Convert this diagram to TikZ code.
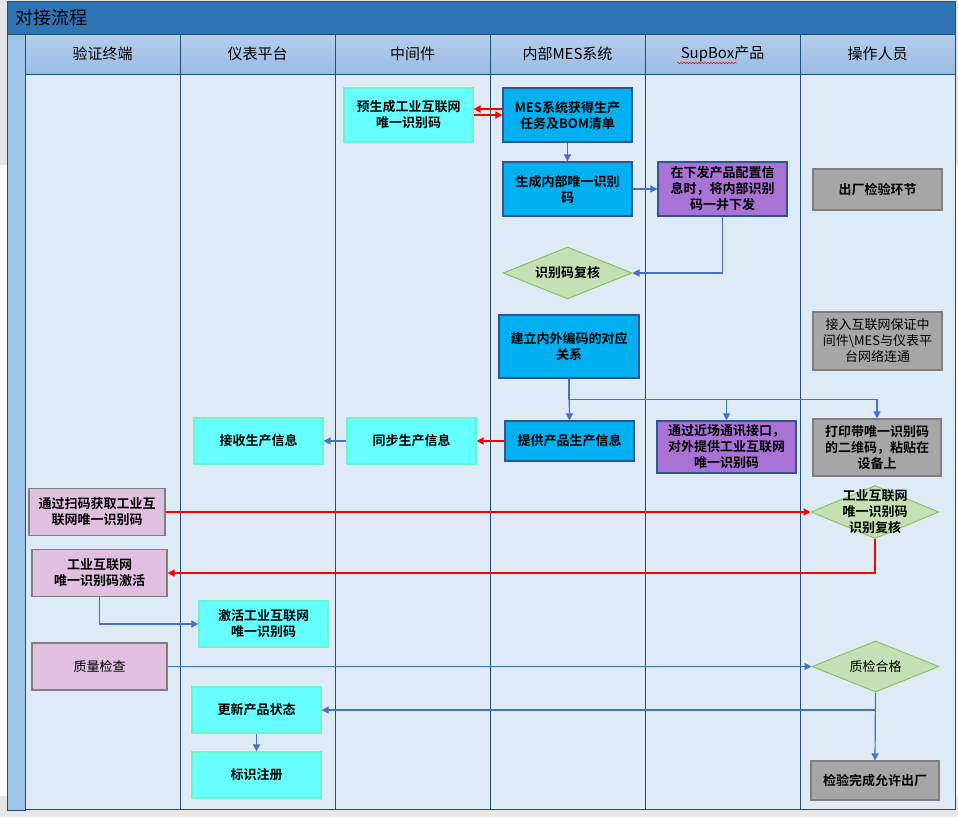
\documentclass[tikz,border=0pt]{standalone}
\usepackage{fontspec}
\newfontfamily\cjk[BoldFont={* Bold}]{Noto Sans CJK SC}
\usetikzlibrary{shapes.geometric,arrows.meta,decorations.pathmorphing,calc}
\definecolor{bggray}{HTML}{E6E6E6}
\definecolor{titleF}{HTML}{2E75B6}
\definecolor{stripF}{HTML}{9DC3E6}
\definecolor{headT}{HTML}{B5CEEB}
\definecolor{headB}{HTML}{9ABCE4}
\definecolor{laneF}{HTML}{DEEAF6}
\definecolor{laneD}{HTML}{1F4E79}
\definecolor{cyanF}{HTML}{66FFFF}
\definecolor{cyanD}{HTML}{6CF5C8}
\definecolor{blueF}{HTML}{00B0F0}
\definecolor{boxD}{HTML}{2F5597}
\definecolor{purF}{HTML}{A973D6}
\definecolor{grayF}{HTML}{A6A6A6}
\definecolor{grayD}{HTML}{7F7F7F}
\definecolor{pinkF}{HTML}{E0BFE0}
\definecolor{diaF}{HTML}{C5E0B4}
\definecolor{diaD}{HTML}{8FC065}
\definecolor{arrB}{HTML}{4472C4}
\definecolor{redL}{HTML}{FF0000}
\begin{document}
\begin{tikzpicture}[x=1pt,y=-1pt,
  box/.style={draw, line width=1.2pt, inner sep=0pt, align=center, font=\cjk\bfseries\fontsize{13}{16}\selectfont},
  cyanbox/.style={box, fill=cyanF, draw=cyanD},
  bluebox/.style={box, fill=blueF, draw=boxD},
  purbox/.style={box, fill=purF, draw=boxD},
  graybox/.style={box, fill=grayF, draw=grayD},
  pinkbox/.style={box, fill=pinkF, draw=grayD},
  dia/.style={diamond, draw=diaD, fill=diaF, line width=1pt, inner sep=0pt},
  diatext/.style={align=center, inner sep=0pt, font=\cjk\bfseries\fontsize{13}{16}\selectfont},
  lane/.style={draw=laneD, line width=1pt, fill=laneF},
  headcell/.style={draw=laneD, line width=1pt, top color=headT, bottom color=headB},
  headtext/.style={font=\cjk\fontsize{15}{18}\selectfont, inner sep=0pt},
  barrow/.style={draw=arrB, line width=1.2pt, -{Triangle[length=7pt,width=7pt]}},
  bline/.style={draw=arrB, line width=1.2pt},
  rarrow/.style={draw=redL, line width=2pt, -{Triangle[length=7pt,width=7pt]}}
]
\useasboundingbox (0,0) rectangle (958,817);
\fill[bggray] (0,0) rectangle (958,817);
\fill[white] (0,165) rectangle (958,796);
% pool
\fill[titleF, draw=laneD, line width=1pt] (7,1) rectangle (955,34);
\node[anchor=west, inner sep=0pt, font=\cjk\fontsize{18}{20}\selectfont] (title) at (15,18) {对接流程};
\fill[stripF, draw=laneD, line width=1pt] (7,34) rectangle (25,810);
% lanes
\foreach \a/\b in {25/180,180/335,335/490,490/645,645/800,800/955}{
  \path[lane] (\a,74) rectangle (\b,809);
  \path[headcell] (\a,34) rectangle (\b,74);
}
\node[headtext] (h1) at (102.5,54) {验证终端};
\node[headtext] (h2) at (257.5,54) {仪表平台};
\node[headtext] (h3) at (412.5,54) {中间件};
\node[headtext] (h4) at (567.5,54) {内部MES系统};
\node[headtext] (h5) at (722.5,54) {SupBox产品};
\node[headtext] (h6) at (877.5,54) {操作人员};
\draw[red, line width=0.5pt, decorate, decoration={snake, amplitude=0.8pt, segment length=3pt}] (677,63) -- (737,63);
% nodes
\node[cyanbox, minimum width=129, minimum height=54] (pre) at (408.5,115) {预生成工业互联网\\唯一识别码};
\node[bluebox, minimum width=129, minimum height=54] (mes) at (567.5,115) {MES系统获得生产\\任务及BOM清单};
\node[bluebox, minimum width=129, minimum height=54] (gen) at (567.5,189) {生成内部唯一识别\\码};
\node[purbox, minimum width=129, minimum height=54] (pur1) at (722.5,189) {在下发产品配置信\\息时，将内部识别\\码一并下发};
\node[dia, minimum width=129, minimum height=52] (d1) at (567.5,273) {};
\node[diatext] (d1t) at (d1) {识别码复核};
\node[bluebox, minimum width=140, minimum height=63] (jl) at (569,346.5) {建立内外编码的对应\\关系};
\node[bluebox, minimum width=129, minimum height=40] (tg) at (569.5,441) {\raisebox{-5pt}{提供产品生产信息}};
\node[cyanbox, minimum width=129, minimum height=46] (tb) at (411.5,441) {同步生产信息};
\node[cyanbox, minimum width=129, minimum height=46] (js) at (258.5,441) {接收生产信息};
\node[purbox, minimum width=139, minimum height=52] (pur2) at (726.5,447) {通过近场通讯接口，\\对外提供工业互联网\\唯一识别码};
\node[graybox, minimum width=128, minimum height=57] (prt) at (877,447.5) {打印带唯一识别码\\的二维码，粘贴在\\设备上};
\node[dia, minimum width=128, minimum height=53] (d2) at (875,512) {};
\node[diatext] (d2t) at (d2) {工业互联网\\唯一识别码\\识别复核};
\node[pinkbox, minimum width=136, minimum height=47] (sm) at (97,512) {通过扫码获取工业互\\联网唯一识别码};
\node[pinkbox, minimum width=135, minimum height=47] (jh) at (99.5,573) {工业互联网\\唯一识别码激活};
\node[cyanbox, minimum width=129, minimum height=46] (act) at (263.5,624) {激活工业互联网\\唯一识别码};
\node[pinkbox, minimum width=135, minimum height=47, font=\cjk\fontsize{13}{16}\selectfont] (zl) at (99.5,666.5) {质量检查};
\node[dia, minimum width=127, minimum height=51] (d3) at (875.5,666.5) {};
\node[diatext, font=\cjk\fontsize{13}{16}\selectfont] (d3t) at (d3) {质检合格};
\node[cyanbox, minimum width=129, minimum height=46] (gx) at (256.5,710) {更新产品状态};
\node[cyanbox, minimum width=129, minimum height=46] (bz) at (256.5,775) {标识注册};
\node[graybox, minimum width=129, minimum height=41] (ccj) at (877.5,189.5) {出厂检验环节};
\node[graybox, minimum width=129, minimum height=58, font=\cjk\fontsize{13}{16}\selectfont] (jr) at (877.5,341) {接入互联网保证中\\间件\textbackslash MES与仪表平\\台网络连通};
\node[graybox, minimum width=128, minimum height=39] (fin) at (875,780.5) {检验完成允许出厂};
% connectors
\draw[rarrow] ([yshift=6pt]mes.west) -- ([yshift=6pt]pre.east);
\draw[rarrow] (pre.east) -- (mes.west);
\draw[barrow] (mes.south) -- (gen.north);
\draw[barrow] (gen.east) -- (pur1.west);
\draw[barrow] (pur1.south) |- (d1.east);
\draw[barrow] (jl.south) -- (tg.north);
\coordinate (br) at ($(jl.south)+(0,21)$);
\draw[bline] (jl.south) -- (br);
\draw[barrow] (br) -| (pur2.north);
\draw[barrow] (br) -| (prt.north);
\draw[rarrow] (tg.west) -- (tg.west -| tb.east);
\draw[barrow] (tb.west) -- (tb.west -| js.east);
\draw[rarrow] (sm.east) -- (sm.east -| d2.west);
\draw[rarrow] (d2.south) |- (jh.east);
\draw[barrow] (jh.south) |- (act.west);
\draw[barrow] (zl.east) -- (zl.east -| d3.west);
\draw[barrow] (d3.south) |- (gx.east);
\draw[barrow] (d3.south) -- (fin.north);
\draw[barrow] (gx.south) -- (bz.north);
\end{tikzpicture}
\end{document}
